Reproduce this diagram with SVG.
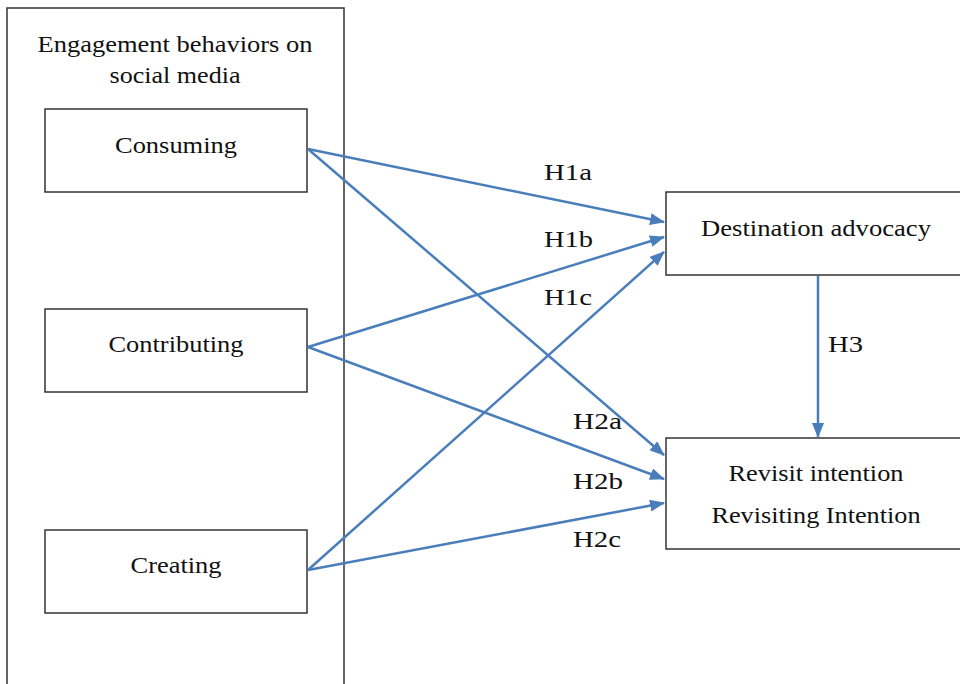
<svg xmlns="http://www.w3.org/2000/svg" width="960" height="684" viewBox="0 0 960 684">
<defs>
<marker id="ah" markerWidth="15" markerHeight="12" refX="14" refY="6" orient="auto" markerUnits="userSpaceOnUse">
<path d="M0,0 L15,6 L0,12 z" fill="#4a7ebb"/>
</marker>
<style>
.box{fill:#fff;stroke:#333;stroke-width:1.5}
.t{font-family:"Liberation Serif","Times New Roman",serif;font-size:24px;fill:#111;text-anchor:middle}
.l{font-family:"Liberation Serif","Times New Roman",serif;font-size:24px;fill:#111}
.c{stroke:#4a7ebb;stroke-width:2.5;fill:none;marker-end:url(#ah)}
</style>
</defs>
<rect width="960" height="684" fill="#fff"/>
<g id="group-engagement">
<path d="M7,690 L7,8 L344,8 L344,690" fill="none" stroke="#333" stroke-width="1.5"/>
<text class="t" x="175" y="52" textLength="275" lengthAdjust="spacingAndGlyphs">Engagement behaviors on</text>
<text class="t" x="175" y="83" textLength="131" lengthAdjust="spacingAndGlyphs">social media</text>
</g>
<g id="node-consuming">
<rect class="box" x="45" y="109" width="262" height="83"/>
<text class="t" x="176" y="153" textLength="122" lengthAdjust="spacingAndGlyphs">Consuming</text>
</g>
<g id="node-contributing">
<rect class="box" x="45" y="309" width="262" height="83"/>
<text class="t" x="176" y="352" textLength="135" lengthAdjust="spacingAndGlyphs">Contributing</text>
</g>
<g id="node-creating">
<rect class="box" x="45" y="530" width="262" height="83"/>
<text class="t" x="176" y="573" textLength="91" lengthAdjust="spacingAndGlyphs">Creating</text>
</g>
<g id="node-advocacy">
<rect class="box" x="666" y="192" width="300" height="83"/>
<text class="t" x="816" y="236" textLength="230" lengthAdjust="spacingAndGlyphs">Destination advocacy</text>
</g>
<g id="node-revisit">
<rect class="box" x="666" y="438" width="300" height="111"/>
<text class="t" x="816" y="481" textLength="175" lengthAdjust="spacingAndGlyphs">Revisit intention</text>
<text class="t" x="816" y="523" textLength="209" lengthAdjust="spacingAndGlyphs">Revisiting Intention</text>
</g>
<g id="connectors">
<line class="c" x1="308" y1="149" x2="664" y2="222"/>
<line class="c" x1="308" y1="149" x2="664" y2="455"/>
<line class="c" x1="308" y1="347" x2="664" y2="237"/>
<line class="c" x1="308" y1="347" x2="664" y2="479"/>
<line class="c" x1="308" y1="570" x2="664" y2="252"/>
<line class="c" x1="308" y1="570" x2="664" y2="503"/>
<line class="c" x1="818" y1="276" x2="818" y2="437"/>
</g>
<g id="labels">
<text class="l" x="544" y="180" textLength="48" lengthAdjust="spacingAndGlyphs">H1a</text>
<text class="l" x="544" y="247" textLength="49" lengthAdjust="spacingAndGlyphs">H1b</text>
<text class="l" x="544" y="305" textLength="48" lengthAdjust="spacingAndGlyphs">H1c</text>
<text class="l" x="573" y="429" textLength="49" lengthAdjust="spacingAndGlyphs">H2a</text>
<text class="l" x="573" y="489" textLength="50" lengthAdjust="spacingAndGlyphs">H2b</text>
<text class="l" x="573" y="547" textLength="48" lengthAdjust="spacingAndGlyphs">H2c</text>
<text class="l" x="828" y="352" textLength="35" lengthAdjust="spacingAndGlyphs">H3</text>
</g>
</svg>
